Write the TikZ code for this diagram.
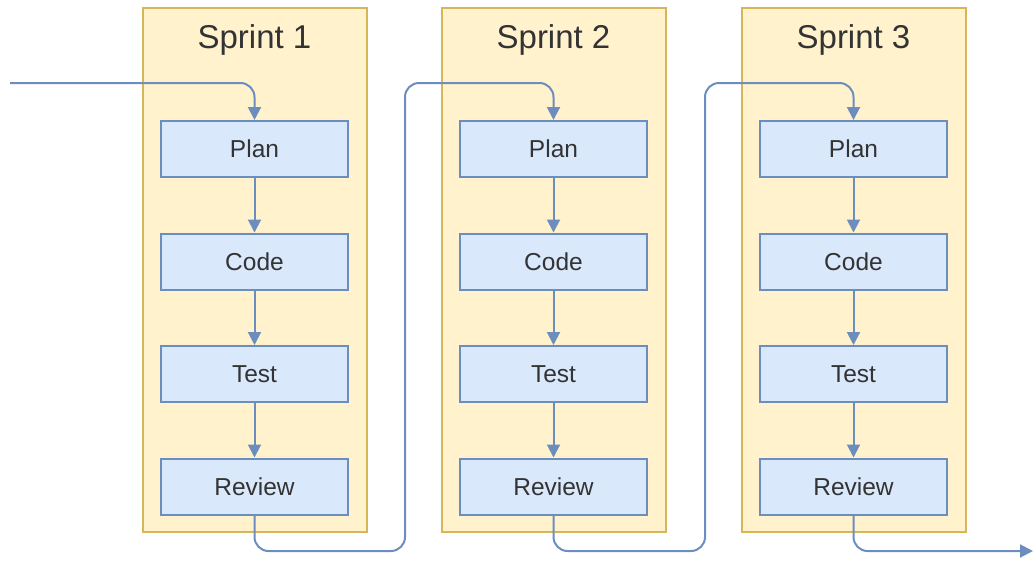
\documentclass[tikz,border=0pt]{standalone}
\usepackage{fontspec}
\setmainfont{Liberation Sans}
\usetikzlibrary{arrows.meta}
\definecolor{sprintfill}{HTML}{FFF2CC}
\definecolor{sprintline}{HTML}{D6B656}
\definecolor{taskfill}{HTML}{DAE8FC}
\definecolor{taskline}{HTML}{6C8EBF}
\definecolor{txt}{HTML}{333333}
\tikzset{
  sprint/.style={draw=sprintline, fill=sprintfill, line width=2pt,
    minimum width=224pt, minimum height=524pt, inner sep=0pt},
  sprinttitle/.style={text=txt, font=\fontsize{33}{38}\selectfont, inner sep=0pt},
  task/.style={draw=taskline, fill=taskfill, line width=2pt,
    minimum width=187pt, minimum height=56pt, inner sep=0pt,
    text=txt, font=\fontsize{24.5}{29}\selectfont},
  flow/.style={draw=taskline, line width=2pt, rounded corners=14pt,
    -{Triangle[length=13pt,width=13pt]}},
}
\begin{document}
\begin{tikzpicture}[x=1pt,y=-1pt]
  \useasboundingbox (0,0) rectangle (1035,560);
  % sprint containers with their four steps
  \foreach \i/\cx in {1/254.5, 2/553.5, 3/853.5} {
    \node[sprint] (s\i) at (\cx,270) {};
    \node[sprinttitle] (t\i) at (\cx,40) {Sprint \i};
    \node[task] (p\i) at (\cx,149) {Plan};
    \node[task] (c\i) at (\cx,261.5) {Code};
    \node[task] (e\i) at (\cx,374) {Test};
    \node[task] (r\i) at (\cx,486.5) {Review};
    \draw[flow] (p\i) -- (c\i);
    \draw[flow] (c\i) -- (e\i);
    \draw[flow] (e\i) -- (r\i);
  }
  % hand-over paths between sprints
  \coordinate (start) at (10,83);
  \coordinate (a1) at (405,551);
  \coordinate (b1) at (405,83);
  \coordinate (a2) at (705,551);
  \coordinate (b2) at (705,83);
  \coordinate (finish) at (1033,551);
  \draw[flow] (start) -| (p1.north);
  \draw[flow] (r1.south) |- (a1) -- (b1) -| (p2.north);
  \draw[flow] (r2.south) |- (a2) -- (b2) -| (p3.north);
  \draw[flow] (r3.south) |- (finish);
\end{tikzpicture}
\end{document}
